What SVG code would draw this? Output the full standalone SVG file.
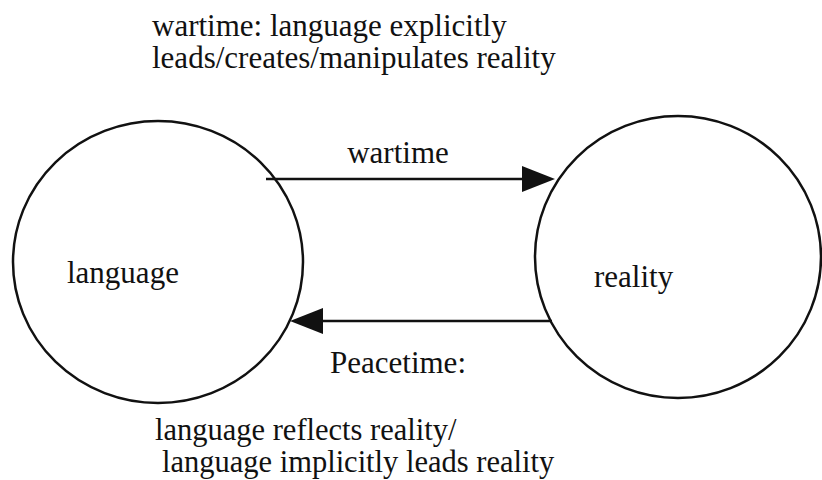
<svg xmlns="http://www.w3.org/2000/svg" width="822" height="480" viewBox="0 0 822 480">
<style>
  text { font-family: "Liberation Serif", "Times New Roman", serif; fill: #111; font-size: 31px; }
  .note { font-size: 30.5px; }
  .node { fill: #fff; stroke: #111; stroke-width: 2.5; }
  .edge { stroke: #111; stroke-width: 2.5; fill: none; }
  .head { fill: #111; stroke: none; }
</style>
<rect width="822" height="480" fill="#fff"/>
<g id="title">
  <text x="152" y="36"><tspan x="152" y="36">wartime: language explicitly</tspan><tspan x="152" y="68">leads/creates/manipulates reality</tspan></text>
</g>
<g id="language">
  <ellipse class="node" cx="158" cy="262" rx="145" ry="141"/>
  <text x="67" y="283">language</text>
</g>
<g id="reality">
  <ellipse class="node" cx="678" cy="257" rx="143" ry="141"/>
  <text x="594" y="287">reality</text>
</g>
<g id="connectors">
  <line class="edge" x1="266" y1="179" x2="524" y2="179"/>
  <polygon class="head" points="522,166 555,179 522,192"/>
  <text x="398" y="163" text-anchor="middle">wartime</text>
  <line class="edge" x1="552" y1="321" x2="321" y2="321"/>
  <polygon class="head" points="323,308 290,321 323,334"/>
  <text x="330" y="373">Peacetime:</text>
</g>
<g id="peacetime-note">
  <text class="note" x="155" y="440"><tspan x="155" y="440">language reflects reality/</tspan><tspan x="162" y="472">language implicitly leads reality</tspan></text>
</g>
</svg>
